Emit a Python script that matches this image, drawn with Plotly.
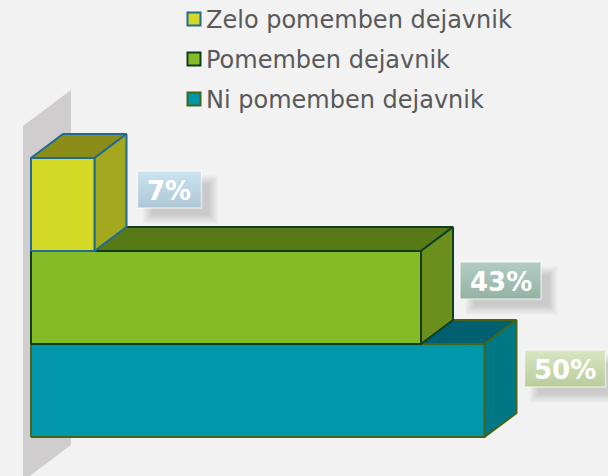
import plotly.graph_objects as go

# Data
categories = ["Ni pomemben dejavnik", "Pomemben dejavnik", "Zelo pomemben dejavnik"]
values = [50, 43, 7]
labels = ["50%", "43%", "7%"]
legend_order = ["Zelo pomemben dejavnik", "Pomemben dejavnik", "Ni pomemben dejavnik"]

front = ["#0097ab", "#84bb26", "#d4d926"]
side = ["#007785", "#6a8f1c", "#a3a81e"]
top = ["#006070", "#587a16", "#8c8c18"]
edge = ["#45661a", "#0f3d1f", "#1f6b94"]
box_top = ["#d8e6c2", "#b2ccc2", "#cce3f0"]
box_bot = ["#bacc9d", "#95b2a6", "#aec6d6"]
box_gap = [8, 7, 11]

# Pixel mapping of the value/category scales
W, H = 608, 476
X0, PX_PER_PCT = 31, 9.07
Y0, BAND = 437, 93
DX, DY = 32, 24


def xd(px):
    return (px - X0) / PX_PER_PCT


def yd(py):
    return (Y0 - py) / BAND


ddx = DX / PX_PER_PCT
ddy = DY / BAND
fig = go.Figure()


def poly(xs, ys, fill, line=None, lw=2, opacity=None):
    fig.add_trace(go.Scatter(
        x=xs + xs[:1], y=ys + ys[:1], mode="lines", fill="toself", fillcolor=fill,
        line=dict(color=line if line else "rgba(0,0,0,0)", width=lw if line else 0),
        hoverinfo="skip", showlegend=False))


# Back wall
wx0, wx1 = xd(23), xd(71)
poly([wx0, wx1, wx1, wx0], [yd(126), yd(90), yd(445), yd(481)], "#cfcdcd")

# Bars
for i, (v, name) in enumerate(zip(values, categories)):
    b, t = i, i + 1
    poly([0, v, v + ddx, ddx], [t, t, t + ddy, t + ddy], top[i], edge[i])
    poly([v, v + ddx, v + ddx, v], [b, b + ddy, t + ddy, t], side[i], edge[i])
    poly([0, v, v, 0], [b, b, t, t], front[i], edge[i])

# Value labels
BOX_W = {"50%": 81, "43%": 81, "7%": 64}
BOX_H = 37
annotations = []
for i, (v, lab) in enumerate(zip(values, labels)):
    left = X0 + v * PX_PER_PCT + DX + box_gap[i]
    cy = Y0 - BAND * (i + 0.5) - [22, 17, 15][i]
    tp = cy - BOX_H / 2
    w = BOX_W[lab]
    for grow in (6, 5, 4, 3, 2, 1, 0, -1, -2, -3):
        poly([xd(left + 11 - grow), xd(left + w + 11 + grow), xd(left + w + 11 + grow), xd(left + 11 - grow)],
             [yd(tp + 10 - grow), yd(tp + 10 - grow), yd(tp + BOX_H + 10 + grow), yd(tp + BOX_H + 10 + grow)],
             "rgba(0,0,0,0.016)")
    xs = [xd(left), xd(left + w), xd(left + w), xd(left), xd(left)]
    ys = [yd(tp), yd(tp), yd(tp + BOX_H), yd(tp + BOX_H), yd(tp)]
    fig.add_trace(go.Scatter(
        x=xs, y=ys, mode="lines", fill="toself",
        fillgradient=dict(type="vertical", colorscale=[[0, box_bot[i]], [1, box_top[i]]]),
        line=dict(color="rgba(255,255,255,0.55)", width=1.5),
        hoverinfo="skip", showlegend=False))
    annotations.append(dict(
        x=xd(left + w / 2), y=yd(cy + 1), xref="x", yref="y", text=lab, showarrow=False,
        font=dict(family="DejaVu Sans", size=26, color="#ffffff", weight="bold")))

# Legend
legend_y = [19, 59, 99]
for name, py in zip(legend_order, legend_y):
    i = categories.index(name)
    fig.add_trace(go.Scatter(
        x=[xd(194)], y=[yd(py)], mode="markers",
        marker=dict(symbol="square", size=13, color=front[i], line=dict(color=edge[i], width=2)),
        hoverinfo="skip", showlegend=False))
    annotations.append(dict(
        x=xd(204), y=yd(py + 1), xref="x", yref="y", text=name, showarrow=False, xanchor="left",
        font=dict(family="DejaVu Sans", size=24, color="#595959")))

fig.update_layout(
    width=W, height=H, margin=dict(l=0, r=0, t=0, b=0), autosize=False,
    paper_bgcolor="#f2f2f2", plot_bgcolor="#f2f2f2", showlegend=False,
    xaxis=dict(range=[xd(0), xd(W)], visible=False, fixedrange=True),
    yaxis=dict(range=[yd(H), yd(0)], visible=False, fixedrange=True),
    annotations=annotations,
)
fig.write_html("out.html", config={"displayModeBar": False},
               post_script="document.body.style.margin='0';document.body.style.overflow='hidden';")
